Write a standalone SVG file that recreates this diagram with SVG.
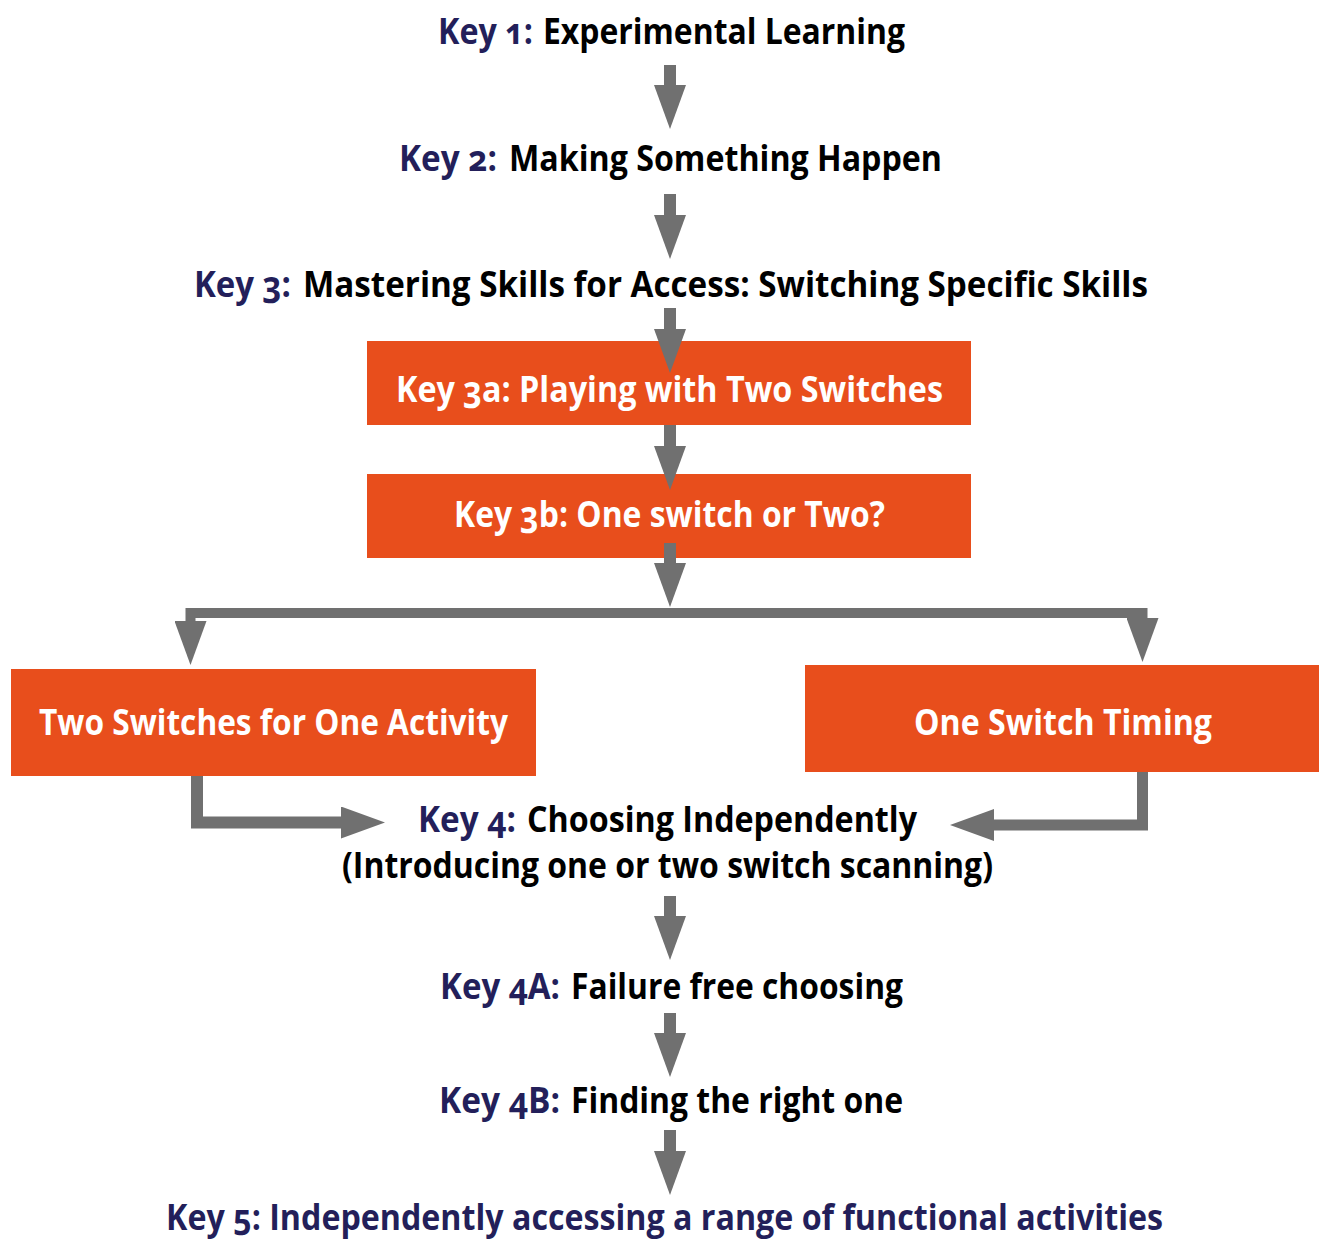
<svg xmlns="http://www.w3.org/2000/svg" width="1319" height="1239" viewBox="0 0 1319 1239">
<style>
text{font-family:"Open Sans","Liberation Sans",sans-serif;font-weight:700;font-size:36px;font-variant-numeric:oldstyle-nums}
.k{fill:#231f5a}
.b{fill:#000}
.w{fill:#fff}
.box{fill:#e84e1c}
.c{fill:none;stroke:#707070;stroke-width:12;stroke-linejoin:miter;marker-end:url(#ah)}
</style>
<defs>
<marker id="ah" markerUnits="userSpaceOnUse" viewBox="0 -16 44 32" markerWidth="44" markerHeight="32" refX="0" refY="0" orient="auto">
<path d="M0,-16 L44,0 L0,16 Z" fill="#707070"/>
</marker>
</defs>
<rect width="1319" height="1239" fill="#fff"/>
<g id="key1"><text class="k" x="438" y="44" textLength="95" lengthAdjust="spacingAndGlyphs">Key 1:</text><text class="b" x="543" y="44" textLength="362" lengthAdjust="spacingAndGlyphs">Experimental Learning</text></g>
<g id="key2"><text class="k" x="399" y="171" textLength="98" lengthAdjust="spacingAndGlyphs">Key 2:</text><text class="b" x="509" y="171" textLength="433" lengthAdjust="spacingAndGlyphs">Making Something Happen</text></g>
<g id="key3"><text class="k" x="194" y="297" textLength="97" lengthAdjust="spacingAndGlyphs">Key 3:</text><text class="b" x="303" y="297" textLength="845" lengthAdjust="spacingAndGlyphs">Mastering Skills for Access: Switching Specific Skills</text></g>
<g id="key3a"><rect class="box" x="367" y="341" width="604" height="84"/><text class="w" x="396" y="402" textLength="547" lengthAdjust="spacingAndGlyphs">Key 3a: Playing with Two Switches</text></g>
<g id="key3b"><rect class="box" x="367" y="474" width="604" height="84"/><text class="w" x="454" y="527" textLength="431" lengthAdjust="spacingAndGlyphs">Key 3b: One switch or Two?</text></g>
<g id="two-switches"><rect class="box" x="11" y="669" width="525" height="107"/><text class="w" x="39" y="735" textLength="469" lengthAdjust="spacingAndGlyphs">Two Switches for One Activity</text></g>
<g id="one-switch"><rect class="box" x="805" y="665" width="514" height="107"/><text class="w" x="914" y="735" textLength="298" lengthAdjust="spacingAndGlyphs">One Switch Timing</text></g>
<g id="key4"><text class="k" x="418" y="832" textLength="98" lengthAdjust="spacingAndGlyphs">Key 4:</text><text class="b" x="527" y="832" textLength="390" lengthAdjust="spacingAndGlyphs">Choosing Independently</text><text class="b" x="342" y="878" textLength="651" lengthAdjust="spacingAndGlyphs">(Introducing one or two switch scanning)</text></g>
<g id="key4a"><text class="k" x="440" y="999" textLength="120" lengthAdjust="spacingAndGlyphs">Key 4A:</text><text class="b" x="571" y="999" textLength="332" lengthAdjust="spacingAndGlyphs">Failure free choosing</text></g>
<g id="key4b"><text class="k" x="439" y="1113" textLength="121" lengthAdjust="spacingAndGlyphs">Key 4B:</text><text class="b" x="571" y="1113" textLength="332" lengthAdjust="spacingAndGlyphs">Finding the right one</text></g>
<g id="key5"><text class="k" x="166" y="1230" textLength="997" lengthAdjust="spacingAndGlyphs">Key 5: Independently accessing a range of functional activities</text></g>
<g id="connectors">
<path class="c" d="M670,65 V85"/>
<path class="c" d="M670,194 V215"/>
<path class="c" d="M670,308 V329"/>
<path class="c" d="M670,425 V446"/>
<path class="c" d="M670,543 V563"/>
<path class="c" style="stroke-width:10" d="M670,613 H190.5 V621"/>
<path class="c" style="stroke-width:10" d="M670,613 H1142.5 V618"/>
<path class="c" d="M197,776 V822.5 H341"/>
<path class="c" style="stroke-width:11" d="M1142.5,772 V825 H994"/>
<path class="c" d="M670,896 V916"/>
<path class="c" d="M670,1013 V1033"/>
<path class="c" d="M670,1130 V1151"/>
</g>
</svg>
